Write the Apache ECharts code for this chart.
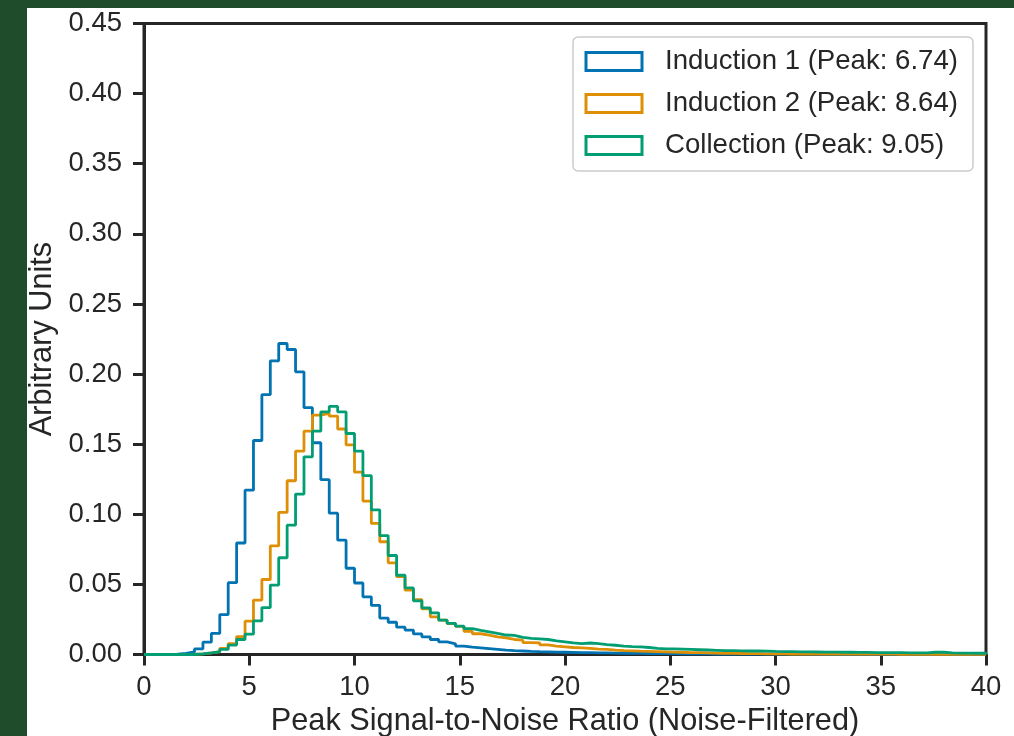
<!DOCTYPE html>
<html><head><meta charset="utf-8">
<script src="https://cdn.jsdelivr.net/npm/echarts@6/dist/echarts.min.js"></script>
<style>
html,body{margin:0;padding:0;background:#1f4d2c;width:1014px;height:736px;overflow:hidden}
#chart{position:absolute;left:27px;top:8px;width:987px;height:728px;background:#fff}
</style></head><body><div id="chart"></div>
<script>
const BIN_WIDTH = 0.4;
const X_MIN = 0, X_MAX = 40, X_STEP = 5;
const Y_MIN = 0, Y_MAX = 0.45, Y_STEP = 0.05;
const seriesNames = ['Induction 1 (Peak: 6.74)', 'Induction 2 (Peak: 8.64)', 'Collection (Peak: 9.05)'];
const seriesColors = ['#0173B2', '#DE8F05', '#029E73'];

const induction1 = [
0,0,0.0001,0.0003,0.0008,0.0018,0.0040,0.0088,0.0150,0.0285,
0.0512,0.0795,0.1172,0.1526,0.1853,0.2094,0.2218,0.2175,0.2016,0.1760,
0.1510,0.1247,0.1008,0.0815,0.0615,0.0510,0.0411,0.0350,0.0260,0.0230,
0.0195,0.0174,0.0147,0.0126,0.0107,0.0090,0.0076,0.0060,0.0052,0.0047,
0.0042,0.0037,0.0031,0.0027,0.0025,0.0022,0.0020,0.0019,0.0017,0.0016,
0.0015,0.0014,0.0013,0.0012,0.0011,0.0010,0.0009,0.0009,0.0008,0.0007,
0.0007,0.0006,0.0006,0.0005,0.0005,0.0004,0.0004,0.0003,0.0003,0.0003,
0.0003,0.0002,0.0002,0.0002,0.0002,0.0002,0.0002,0.0002,0.0002,0.0002,
0.0001,0.0001,0.0001,0.0001,0.0001,0.0001,0.0001,0.0001,0.0001,0.0001,
0.0001,0.0001,0.0001,0.0001,0.0001,0.0001,0.0001,0.0001,0.0001,0.0001];

const induction2 = [
0,0,0,0,0,0.0002,0.0005,0.0011,0.0020,0.0043,
0.0078,0.0128,0.0238,0.0388,0.0535,0.0775,0.1013,0.1239,0.1450,0.1593,
0.1707,0.1720,0.1700,0.1608,0.1495,0.1300,0.1094,0.0935,0.0804,0.0654,
0.0555,0.0459,0.0392,0.0325,0.0269,0.0245,0.0220,0.0200,0.0165,0.0148,
0.0138,0.0126,0.0118,0.0107,0.0102,0.0085,0.0083,0.0068,0.0060,0.0055,
0.0050,0.0047,0.0043,0.0038,0.0036,0.0031,0.0027,0.0026,0.0024,0.0023,
0.0021,0.0019,0.0017,0.0016,0.0014,0.0013,0.0012,0.0010,0.0009,0.0008,
0.0007,0.0006,0.0006,0.0005,0.0005,0.0004,0.0003,0.0003,0.0003,0.0003,
0.0003,0.0002,0.0002,0.0002,0.0002,0.0002,0.0002,0.0002,0.0002,0.0001,
0.0001,0.0001,0.0001,0.0001,0.0001,0.0001,0.0001,0.0001,0.0001,0.0001];

const collection = [
0,0,0,0,0,0,0.0004,0.0011,0.0019,0.0036,
0.0067,0.0107,0.0145,0.0240,0.0335,0.0495,0.0690,0.0922,0.1144,0.1410,
0.1593,0.1731,0.1769,0.1731,0.1576,0.1450,0.1275,0.1032,0.0848,0.0706,
0.0565,0.0475,0.0383,0.0332,0.0297,0.0245,0.0222,0.0202,0.0184,0.0172,
0.0162,0.0150,0.0139,0.0136,0.0122,0.0115,0.0112,0.0107,0.0097,0.0090,
0.0083,0.0078,0.0082,0.0077,0.0071,0.0066,0.0060,0.0056,0.0055,0.0050,
0.0044,0.0040,0.0040,0.0038,0.0036,0.0034,0.0032,0.0030,0.0028,0.0027,
0.0026,0.0025,0.0026,0.0024,0.0022,0.0021,0.0020,0.0019,0.0019,0.0018,
0.0017,0.0017,0.0016,0.0016,0.0015,0.0015,0.0014,0.0014,0.0013,0.0013,
0.0012,0.0012,0.0012,0.0016,0.0016,0.0011,0.0010,0.0010,0.0009,0.0009];

const allValues = [induction1, induction2, collection];

function stepData(vals) {
  const pts = vals.map((v, i) => [i * BIN_WIDTH, v]);
  pts.push([vals.length * BIN_WIDTH, vals[vals.length - 1]]);
  pts.push([vals.length * BIN_WIDTH, 0]);
  return pts;
}

const TXT = '#262626';
const FONT = 'Liberation Sans, Arial, sans-serif';
const chart = echarts.init(document.getElementById('chart'), null, {renderer: 'canvas'});
chart.setOption({
  animation: false,
  backgroundColor: '#ffffff',
  grid: {left: 117, top: 15.5, width: 842, height: 631, show: true, borderColor: TXT, borderWidth: 3, backgroundColor: 'transparent', outerBoundsMode: 'none'},
  xAxis: {
    type: 'value', min: X_MIN, max: X_MAX, interval: X_STEP,
    name: 'Peak Signal-to-Noise Ratio (Noise-Filtered)', nameLocation: 'middle', nameGap: 47,
    nameTextStyle: {fontSize: 30.7, color: TXT, fontFamily: FONT},
    axisLine: {show: true, lineStyle: {color: TXT, width: 3}},
    axisTick: {show: true, inside: false, length: 11, lineStyle: {color: TXT, width: 3}},
    axisLabel: {fontSize: 27.5, color: TXT, fontFamily: FONT, margin: 19},
    splitLine: {show: false}
  },
  yAxis: {
    type: 'value', min: Y_MIN, max: Y_MAX, interval: Y_STEP,
    name: 'Arbitrary Units', nameLocation: 'middle', nameGap: 81,
    nameTextStyle: {fontSize: 30.7, color: TXT, fontFamily: FONT},
    axisLine: {show: true, lineStyle: {color: TXT, width: 3}},
    axisTick: {show: true, inside: false, length: 11, lineStyle: {color: TXT, width: 3}},
    axisLabel: {fontSize: 27.5, color: TXT, fontFamily: FONT, margin: 22, formatter: v => v.toFixed(2)},
    splitLine: {show: false}
  },
  legend: {
    orient: 'vertical', left: 546, top: 29,
    padding: [10.5, 15, 11.5, 11.5],
    backgroundColor: 'rgba(255,255,255,0.8)', borderColor: '#cccccc', borderWidth: 1.5, borderRadius: 5,
    icon: 'rect', itemWidth: 56, itemHeight: 18, itemGap: 14,
    textStyle: {fontSize: 27.6, color: TXT, fontFamily: FONT, lineHeight: 27, padding: [0, 0, 0, 18]},
    data: seriesNames.map((n, i) => ({name: n, icon: 'rect', itemStyle: {color: '#ffffff', borderColor: seriesColors[i], borderWidth: 3}}))
  },
  series: allValues.map((vals, i) => ({
    name: seriesNames[i], type: 'line', step: 'end', showSymbol: false, symbol: 'none',
    data: stepData(vals), color: seriesColors[i],
    lineStyle: {color: seriesColors[i], width: 2.8}, z: 3 + i
  }))
});
</script></body></html>
